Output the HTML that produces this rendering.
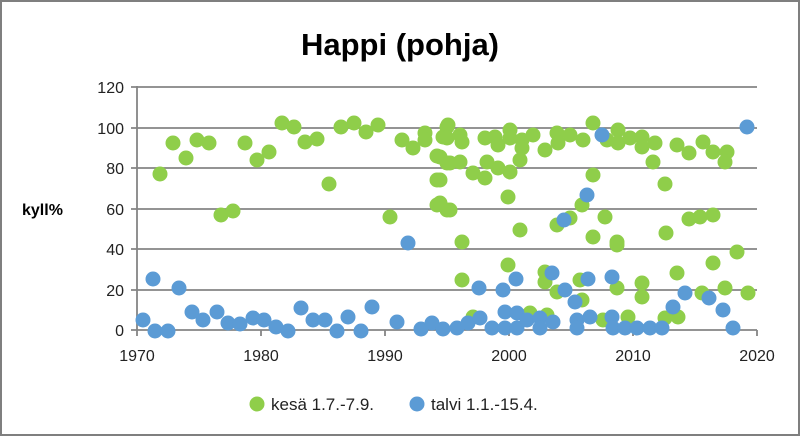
<!DOCTYPE html>
<html><head><meta charset="utf-8"><style>
body{margin:0;background:#fff}
svg{display:block;font-family:"Liberation Sans",sans-serif}
</style></head><body>
<svg width="800" height="436" viewBox="0 0 800 436">
<rect x="1" y="1" width="798" height="434" fill="#fff" stroke="#7f7f7f" stroke-width="2"/>
<text x="400" y="55" font-size="31" font-weight="bold" text-anchor="middle" fill="#000">Happi (pohja)</text>
<text x="22" y="215" font-size="16" font-weight="bold" fill="#000">kyll%</text>
<g stroke="#858585" stroke-width="1.8">
<line x1="131" y1="87" x2="757" y2="87"/><line x1="131" y1="128" x2="757" y2="128"/>
<line x1="131" y1="168" x2="757" y2="168"/><line x1="131" y1="209" x2="757" y2="209"/>
<line x1="131" y1="249" x2="757" y2="249"/><line x1="131" y1="290" x2="757" y2="290"/>
<line x1="131" y1="330" x2="757" y2="330"/>
<line x1="137" y1="86" x2="137" y2="336"/>
<line x1="261" y1="330" x2="261" y2="336"/><line x1="385" y1="330" x2="385" y2="336"/>
<line x1="509" y1="330" x2="509" y2="336"/><line x1="633" y1="330" x2="633" y2="336"/>
<line x1="757" y1="330" x2="757" y2="336"/>
</g>
<g font-size="16" fill="#222" text-anchor="end">
<text x="124" y="93">120</text><text x="124" y="134">100</text><text x="124" y="174">80</text>
<text x="124" y="215">60</text><text x="124" y="255">40</text><text x="124" y="296">20</text><text x="124" y="336">0</text>
</g>
<g font-size="16" fill="#222" text-anchor="middle">
<text x="137" y="361">1970</text><text x="261" y="361">1980</text><text x="385" y="361">1990</text>
<text x="509" y="361">2000</text><text x="633" y="361">2010</text><text x="757" y="361">2020</text>
</g>
<g fill="#8fce4a">
<circle cx="160" cy="174" r="7.5"/><circle cx="173" cy="143" r="7.5"/><circle cx="186" cy="158" r="7.5"/><circle cx="197" cy="140" r="7.5"/><circle cx="209" cy="143" r="7.5"/><circle cx="221" cy="215" r="7.5"/><circle cx="233" cy="211" r="7.5"/><circle cx="245" cy="143" r="7.5"/><circle cx="257" cy="160" r="7.5"/><circle cx="269" cy="152" r="7.5"/><circle cx="282" cy="123" r="7.5"/><circle cx="294" cy="127" r="7.5"/><circle cx="305" cy="142" r="7.5"/><circle cx="317" cy="139" r="7.5"/><circle cx="329" cy="184" r="7.5"/><circle cx="341" cy="127" r="7.5"/><circle cx="354" cy="123" r="7.5"/><circle cx="366" cy="132" r="7.5"/><circle cx="378" cy="125" r="7.5"/><circle cx="390" cy="217" r="7.5"/><circle cx="402" cy="140" r="7.5"/><circle cx="413" cy="148" r="7.5"/><circle cx="425" cy="133" r="7.5"/><circle cx="425" cy="140" r="7.5"/><circle cx="437" cy="156" r="7.5"/><circle cx="437" cy="180" r="7.5"/><circle cx="437" cy="205" r="7.5"/><circle cx="447" cy="210" r="7.5"/><circle cx="447" cy="127" r="7.5"/><circle cx="447" cy="163" r="7.5"/><circle cx="443" cy="137" r="7.5"/>
<circle cx="448" cy="125" r="7.5"/><circle cx="447" cy="138" r="7.5"/><circle cx="460" cy="135" r="7.5"/><circle cx="462" cy="142" r="7.5"/><circle cx="440" cy="157" r="7.5"/><circle cx="450" cy="163" r="7.5"/><circle cx="460" cy="162" r="7.5"/><circle cx="440" cy="180" r="7.5"/><circle cx="440" cy="203" r="7.5"/><circle cx="450" cy="210" r="7.5"/><circle cx="462" cy="242" r="7.5"/><circle cx="462" cy="280" r="7.5"/><circle cx="473" cy="173" r="7.5"/><circle cx="485" cy="178" r="7.5"/><circle cx="473" cy="317" r="7.5"/><circle cx="485" cy="138" r="7.5"/><circle cx="495" cy="137" r="7.5"/><circle cx="498" cy="145" r="7.5"/><circle cx="510" cy="130" r="7.5"/><circle cx="510" cy="138" r="7.5"/><circle cx="522" cy="140" r="7.5"/><circle cx="522" cy="148" r="7.5"/><circle cx="520" cy="160" r="7.5"/><circle cx="533" cy="135" r="7.5"/><circle cx="487" cy="162" r="7.5"/><circle cx="498" cy="168" r="7.5"/><circle cx="510" cy="172" r="7.5"/><circle cx="508" cy="197" r="7.5"/><circle cx="520" cy="230" r="7.5"/><circle cx="508" cy="265" r="7.5"/><circle cx="545" cy="150" r="7.5"/><circle cx="557" cy="133" r="7.5"/><circle cx="558" cy="143" r="7.5"/><circle cx="570" cy="135" r="7.5"/><circle cx="583" cy="140" r="7.5"/><circle cx="593" cy="123" r="7.5"/><circle cx="593" cy="175" r="7.5"/><circle cx="607" cy="140" r="7.5"/><circle cx="618" cy="130" r="7.5"/><circle cx="618" cy="143" r="7.5"/><circle cx="630" cy="138" r="7.5"/><circle cx="642" cy="137" r="7.5"/><circle cx="642" cy="147" r="7.5"/><circle cx="655" cy="143" r="7.5"/><circle cx="653" cy="162" r="7.5"/><circle cx="665" cy="184" r="7.5"/><circle cx="582" cy="205" r="7.5"/><circle cx="570" cy="218" r="7.5"/><circle cx="557" cy="225" r="7.5"/><circle cx="605" cy="217" r="7.5"/><circle cx="593" cy="237" r="7.5"/><circle cx="617" cy="242" r="7.5"/><circle cx="617" cy="245" r="7.5"/><circle cx="666" cy="233" r="7.5"/><circle cx="677" cy="145" r="7.5"/><circle cx="689" cy="153" r="7.5"/><circle cx="703" cy="142" r="7.5"/><circle cx="713" cy="152" r="7.5"/><circle cx="727" cy="152" r="7.5"/><circle cx="725" cy="162" r="7.5"/><circle cx="689" cy="219" r="7.5"/><circle cx="700" cy="217" r="7.5"/><circle cx="713" cy="215" r="7.5"/><circle cx="737" cy="252" r="7.5"/><circle cx="713" cy="263" r="7.5"/><circle cx="677" cy="273" r="7.5"/><circle cx="545" cy="272" r="7.5"/><circle cx="545" cy="282" r="7.5"/><circle cx="557" cy="292" r="7.5"/><circle cx="580" cy="280" r="7.5"/><circle cx="582" cy="300" r="7.5"/><circle cx="617" cy="288" r="7.5"/><circle cx="642" cy="283" r="7.5"/><circle cx="642" cy="297" r="7.5"/><circle cx="702" cy="293" r="7.5"/><circle cx="725" cy="288" r="7.5"/><circle cx="748" cy="293" r="7.5"/><circle cx="628" cy="317" r="7.5"/><circle cx="603" cy="320" r="7.5"/><circle cx="665" cy="318" r="7.5"/><circle cx="678" cy="317" r="7.5"/><circle cx="530" cy="313" r="7.5"/><circle cx="547" cy="315" r="7.5"/>
</g>
<g fill="#5b9bd5">
<circle cx="143" cy="320" r="7.5"/><circle cx="153" cy="279" r="7.5"/><circle cx="155" cy="331" r="7.5"/><circle cx="168" cy="331" r="7.5"/><circle cx="179" cy="288" r="7.5"/><circle cx="192" cy="312" r="7.5"/><circle cx="203" cy="320" r="7.5"/><circle cx="217" cy="312" r="7.5"/><circle cx="228" cy="323" r="7.5"/><circle cx="240" cy="324" r="7.5"/><circle cx="253" cy="318" r="7.5"/><circle cx="264" cy="320" r="7.5"/><circle cx="276" cy="327" r="7.5"/><circle cx="288" cy="331" r="7.5"/><circle cx="301" cy="308" r="7.5"/><circle cx="313" cy="320" r="7.5"/><circle cx="325" cy="320" r="7.5"/><circle cx="337" cy="331" r="7.5"/><circle cx="348" cy="317" r="7.5"/><circle cx="361" cy="331" r="7.5"/><circle cx="372" cy="307" r="7.5"/><circle cx="397" cy="322" r="7.5"/><circle cx="408" cy="243" r="7.5"/><circle cx="421" cy="329" r="7.5"/><circle cx="432" cy="323" r="7.5"/><circle cx="443" cy="329" r="7.5"/>
<circle cx="457" cy="328" r="7.5"/><circle cx="468" cy="323" r="7.5"/><circle cx="480" cy="318" r="7.5"/><circle cx="492" cy="328" r="7.5"/><circle cx="505" cy="328" r="7.5"/><circle cx="505" cy="312" r="7.5"/><circle cx="517" cy="313" r="7.5"/><circle cx="517" cy="328" r="7.5"/><circle cx="527" cy="320" r="7.5"/><circle cx="540" cy="318" r="7.5"/><circle cx="540" cy="328" r="7.5"/><circle cx="553" cy="322" r="7.5"/><circle cx="479" cy="288" r="7.5"/><circle cx="503" cy="290" r="7.5"/><circle cx="516" cy="279" r="7.5"/><circle cx="552" cy="273" r="7.5"/><circle cx="565" cy="290" r="7.5"/><circle cx="575" cy="302" r="7.5"/><circle cx="577" cy="320" r="7.5"/><circle cx="577" cy="328" r="7.5"/><circle cx="590" cy="317" r="7.5"/><circle cx="588" cy="279" r="7.5"/><circle cx="612" cy="277" r="7.5"/><circle cx="612" cy="317" r="7.5"/><circle cx="613" cy="328" r="7.5"/><circle cx="625" cy="328" r="7.5"/><circle cx="637" cy="328" r="7.5"/><circle cx="650" cy="328" r="7.5"/><circle cx="662" cy="328" r="7.5"/><circle cx="673" cy="307" r="7.5"/><circle cx="685" cy="293" r="7.5"/><circle cx="709" cy="298" r="7.5"/><circle cx="723" cy="310" r="7.5"/><circle cx="733" cy="328" r="7.5"/><circle cx="747" cy="127" r="7.5"/><circle cx="602" cy="135" r="7.5"/><circle cx="587" cy="195" r="7.5"/><circle cx="564" cy="220" r="7.5"/>
</g>
<circle cx="257" cy="404" r="7.5" fill="#8fce4a"/>
<text x="271" y="410" font-size="17" fill="#222">kesä 1.7.-7.9.</text>
<circle cx="417" cy="404" r="7.5" fill="#5b9bd5"/>
<text x="431" y="410" font-size="17" fill="#222">talvi 1.1.-15.4.</text>
</svg>
</body></html>
